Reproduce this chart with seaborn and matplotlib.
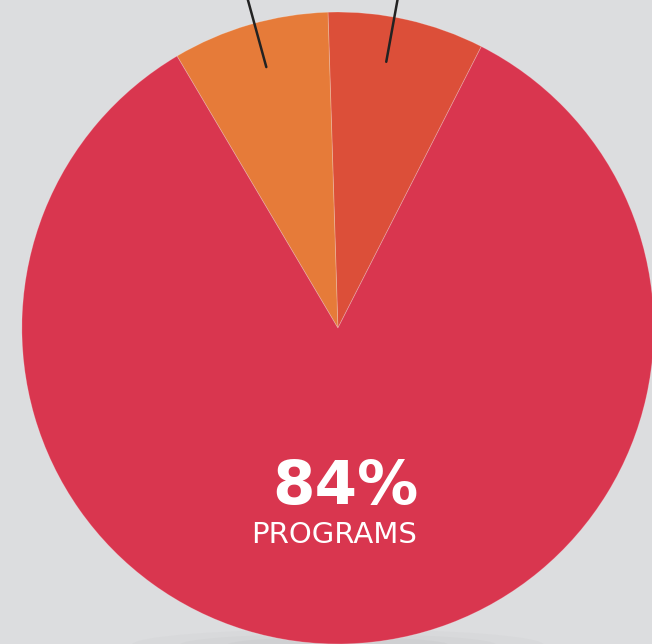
import numpy as np
import matplotlib
matplotlib.use("Agg")
import matplotlib.pyplot as plt
from matplotlib.patches import Ellipse
import seaborn as sns

sns.set_theme(style="white")
plt.rcParams['font.family'] = ['DejaVu Sans']

# slice data (counter-clockwise from the start angle)
labels = ["Other A", "Other B", "Programs"]
shares = [8, 8, 84]
colors = ["#DC4F39", "#E67B39", "#D9364F"]
main_value = "84%"
main_label = "PROGRAMS"

bg = "#DCDDDF"

fig = plt.figure(figsize=(6.52, 6.44), dpi=100)
fig.patch.set_facecolor(bg)
ax = fig.add_axes([0, 0, 1, 1])
ax.set_facecolor(bg)

# soft shadow under the disc
for w, h, a in [(1.3, 0.10, 0.05), (1.0, 0.07, 0.06), (0.7, 0.05, 0.07)]:
    ax.add_patch(Ellipse((0.0, -1.0), w, h, color="#9a9a9a", alpha=a, lw=0, zorder=0))

wedges, _ = ax.pie(shares, colors=colors, startangle=63, counterclock=True,
                   radius=0.997, center=(0, 0),
                   wedgeprops=dict(linewidth=0.6, edgecolor=(1, 1, 1, 0.25)))
for w in wedges:
    w.set_zorder(2)

# leader lines from the two small slices towards their (off-canvas) labels
# (position of each line along its wedge, 0 = start edge, 1 = end edge)
line_pos = [0.58, 0.47]
for w, f in zip(wedges[:2], line_pos):
    ang = np.deg2rad(w.theta1 + f * (w.theta2 - w.theta1))
    ax.annotate("", xy=(0.845 * np.cos(ang), 0.845 * np.sin(ang)),
                xytext=(1.2 * np.cos(ang), 1.2 * np.sin(ang)),
                arrowprops=dict(arrowstyle="-", color="#222222", lw=1.8),
                zorder=3, annotation_clip=False)

ax.text(0.025, -0.503, main_value, ha="center", va="center", color="white",
        fontsize=44, fontweight="bold", zorder=4)
ax.text(-0.013, -0.652, main_label, ha="center", va="center", color="white",
        fontsize=21, zorder=4)

ax.set_xlim(-1.066, 0.991)
ax.set_ylim(-0.997, 1.035)
ax.set_aspect("auto")
ax.axis("off")

fig.savefig("out.png", dpi=100, facecolor=bg)
